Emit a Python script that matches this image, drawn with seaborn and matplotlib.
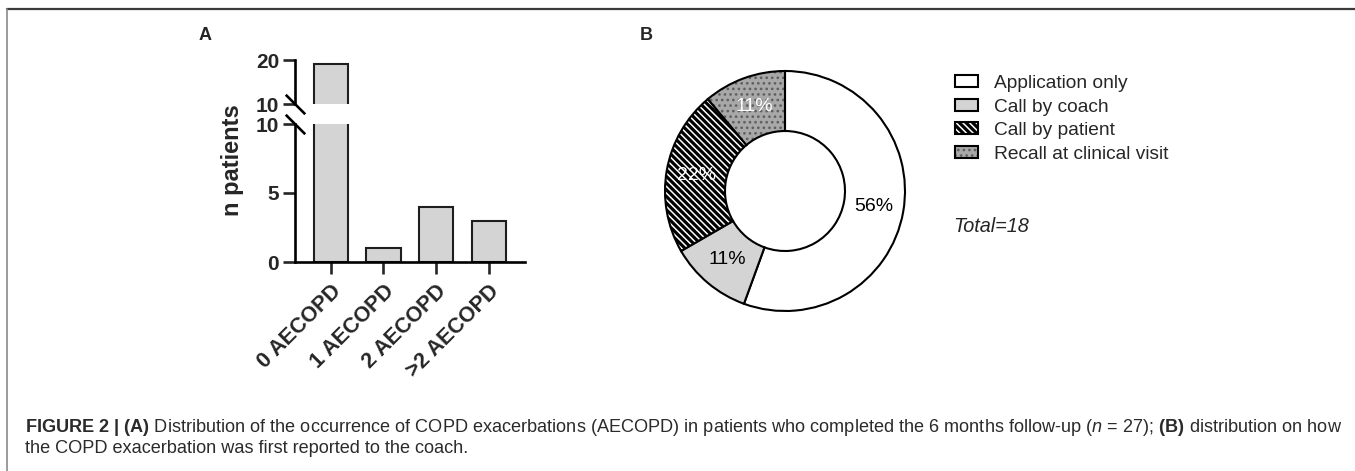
import numpy as np
import pandas as pd
import seaborn as sns
import matplotlib.pyplot as plt
from matplotlib.patches import Patch
from matplotlib.lines import Line2D
from matplotlib.colors import to_rgba

# Panel A data
categories = ["0 AECOPD", "1 AECOPD", "2 AECOPD", ">2 AECOPD"]
n_patients = [19, 1, 4, 3]

# Panel B data
report_labels = ["Application only", "Call by coach", "Call by patient", "Recall at clinical visit"]
report_counts = [10, 2, 4, 2]
total = 18

sns.set_style("ticks")
plt.rcParams['font.family'] = ['Liberation Sans', 'DejaVu Sans']
plt.rcParams['mathtext.fontset'] = 'custom'
plt.rcParams['mathtext.rm'] = 'Liberation Sans'
plt.rcParams['mathtext.bf'] = 'Liberation Sans:bold'
plt.rcParams['mathtext.it'] = 'Liberation Sans:italic'
plt.rcParams['hatch.linewidth'] = 1.1

W, H = 1355, 471
fig = plt.figure(figsize=(W / 100, H / 100), dpi=100)


def box(x0, y0, x1, y1):
    # pixel box (top-left origin) -> figure fraction rect
    return [x0 / W, 1 - y1 / H, (x1 - x0) / W, (y1 - y0) / H]


# ---- Panel A: bar chart with broken y axis ----
ax_top = fig.add_axes(box(295, 60, 525, 104))
ax_bot = fig.add_axes(box(295, 124, 525, 262))
df = pd.DataFrame({"group": categories, "n": n_patients})

for ax in (ax_top, ax_bot):
    sns.barplot(data=df, x="group", y="n", ax=ax, color="#d4d4d4", saturation=1,
                edgecolor="#1e1e1e", linewidth=1.5, width=0.65)
    ax.set_xlim(-0.68, 3.69)
    ax.set_xlabel("")
    ax.set_ylabel("")
    for s in ax.spines.values():
        s.set_linewidth(1.9)
        s.set_color("black")
    ax.tick_params(axis="both", width=1.9, length=8.5, pad=3)
    ax.spines["right"].set_visible(False)
    ax.spines["top"].set_visible(False)

ax_top.set_ylim(10, 20)
ax_top.set_yticks([10, 20])
ax_top.set_yticklabels(["10", "20"], fontweight="bold", fontsize=15)
ax_top.spines["bottom"].set_visible(False)
ax_top.set_xticks([])

ax_bot.set_ylim(0, 10)
ax_bot.set_yticks([0, 5, 10])
ax_bot.set_yticklabels(["0", "5", "10"], fontweight="bold", fontsize=15)
ax_bot.set_xticks(range(len(categories)))
ax_bot.set_xticklabels(categories, rotation=45, ha="right", va="top",
                       rotation_mode="anchor", fontweight="bold", fontsize=15.5)
ax_bot.tick_params(axis="x", pad=5)

# break marks
brk = dict(marker=[(-1, 1), (1, -1)], markersize=14, linestyle="none",
           color="black", mec="black", mew=1.9, clip_on=False)
ax_top.plot([0], [0], transform=ax_top.transAxes, **brk)
ax_bot.plot([0], [1], transform=ax_bot.transAxes, **brk)

fig.text(233 / W, 1 - 160 / H, "n patients", rotation=90, fontsize=17,
         fontweight="bold", ha="center", va="center")
fig.text(205 / W, 1 - 36 / H, "A", fontsize=13, fontweight="bold", ha="center", va="center")

# ---- Panel B: donut ----
ax_pie = fig.add_axes(box(660, 66, 910, 316))
face = ["white", "#d4d4d4", "black", "#a8a8a8"]
hatches = [None, None, "\\" * 5, "..."]
hatch_cols = [None, None, "white", "#5e5e5e"]
wedges, texts, autotexts = ax_pie.pie(
    report_counts, colors=face, startangle=90, counterclock=False,
    autopct="%1.0f%%", pctdistance=0.75,
    wedgeprops=dict(width=0.5, edgecolor="black", linewidth=1.5),
    textprops=dict(fontsize=14))
for w, h, hc in zip(wedges, hatches, hatch_cols):
    if h:
        w.set_hatch(h)
        w._hatch_color = to_rgba(hc)
for t, c in zip(autotexts, ["black", "black", "white", "white"]):
    t.set_color(c)
ax_pie.set_xlim(-1.0417, 1.0417)
ax_pie.set_ylim(-1.0417, 1.0417)
ax_pie.set_aspect("equal")
ax_pie.axis("off")

handles = []
for f, h, hc in zip(face, hatches, hatch_cols):
    p = Patch(facecolor=f, edgecolor="black", linewidth=1.5, hatch=h)
    if h:
        p._hatch_color = to_rgba(hc)
    handles.append(p)
fig.legend(handles, report_labels, loc="upper left", bbox_to_anchor=(955 / W, 1 - 75 / H),
           frameon=False, borderpad=0, borderaxespad=0, handlelength=1.2,
           handleheight=0.55, handletextpad=0.85, labelspacing=0.34, fontsize=13.8)
fig.text(953 / W, 1 - 227 / H, f"Total={total}", fontsize=14.3, style="italic", va="center")
fig.text(646 / W, 1 - 36 / H, "B", fontsize=13, fontweight="bold", ha="center", va="center")

# ---- frame and caption ----
fig.add_artist(Line2D([7 / W, 1], [1 - 8.5 / H] * 2, color="#3a3a3a", lw=1.6))
fig.add_artist(Line2D([7.5 / W] * 2, [0, 1 - 8.5 / H], color="#8a8a8a", lw=1.2))

cap1 = (r"$\mathbf{FIGURE\ 2\ |\ (A)}$ Distribution of the occurrence of COPD exacerbations "
        r"(AECOPD) in patients who completed the 6 months follow-up ($\mathit{n}$ = 27); "
        r"$\mathbf{(B)}$ distribution on how")
cap2 = "the COPD exacerbation was first reported to the coach."
fig.text(25 / W, 1 - 432 / H, cap1, fontsize=13.1, color="#2b2b2b", va="baseline")
fig.text(25 / W, 1 - 453 / H, cap2, fontsize=13.1, color="#2b2b2b", va="baseline")

fig.savefig("out.png", dpi=100)
